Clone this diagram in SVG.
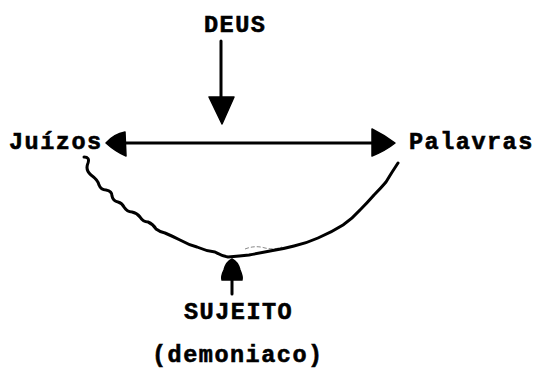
<svg xmlns="http://www.w3.org/2000/svg" width="540" height="368" viewBox="0 0 540 368">
<style>
.t{font-family:"Liberation Mono","Courier New",monospace;font-weight:bold;font-size:23.5px;letter-spacing:1.5px;fill:#000;stroke:#000;stroke-width:0.6}
.ln{fill:none;stroke:#000;stroke-width:3;stroke-linecap:round;stroke-linejoin:round}
.hd{fill:#000;stroke:#000;stroke-width:1.5;stroke-linejoin:round}
</style>
<rect width="540" height="368" fill="#fff"/>
<g id="deus"><text class="t" x="204" y="32">DEUS</text></g>
<g id="juizos"><text class="t" x="9" y="149">Juízos</text></g>
<g id="palavras"><text class="t" x="409" y="149">Palavras</text></g>
<g id="sujeito"><text class="t" x="184" y="319">SUJEITO</text></g>
<g id="demoniaco"><text class="t" x="152" y="362">(demoniaco)</text></g>
<g id="connectors">
<path class="ln" d="M221 41 L221 100"/>
<path class="hd" d="M209 97 L234 97 L222 124 Z"/>
<path class="ln" d="M124 143 L374 143"/>
<path class="hd" d="M106 143 Q114 134 125 132 L126 156 Q116 152 106 143 Z"/>
<path class="hd" d="M372 129 Q384 135 395 143 Q385 151 372 156 Z"/>
<path class="ln" d="M84 157 Q90 157 88 163 Q85 170 91 175 Q98 180 99 185 Q101 190 106 190 Q112 191 112 196 Q113 201 118 202 Q122 203 124 207 Q127 212 132 212 Q137 213 140 217 Q143 222 148 222 Q153 224 156 229 Q160 232 165 233 Q172 236 180 240 Q189 245 197 247 Q206 251 215 252 Q222 256 228 257 Q240 256 249 255 Q260 253 270 251 Q283 249 294 246 Q307 243 318 238 Q332 232 343 225 Q353 218 360 210 Q367 203 374 195 Q381 188 386 182 Q392 172 398 163"/>
<path d="M245 249 Q255 245 265 248 Q274 250 282 247" fill="none" stroke="#000" stroke-width="0.8" stroke-dasharray="4 2" opacity="0.6"/>
<path class="ln" d="M232 280 L232 294"/>
<path class="hd" d="M232 259 Q238 262 240 270 Q243 277 242 280 L222 280 Q221 276 224 270 Q226 262 232 259 Z"/>
</g>
</svg>
